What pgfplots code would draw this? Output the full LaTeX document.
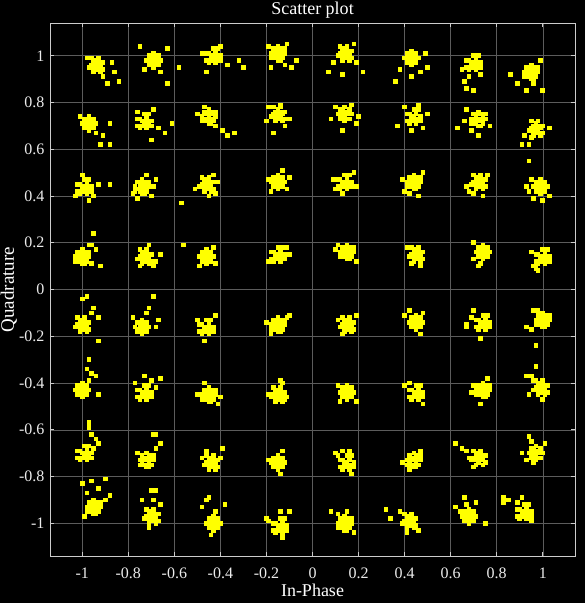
\documentclass[border=0pt]{standalone}
\usepackage{pgfplots}
\pgfplotsset{compat=1.18}
\usepackage{fontspec}
\setmainfont{Liberation Serif}
\definecolor{dotyellow}{rgb}{1,1,0}
\definecolor{gridgray}{rgb}{0.36,0.36,0.36}
\definecolor{framegray}{rgb}{0.8,0.8,0.8}
\pgfplotsset{pts/.style={only marks, mark=square*, mark size=1.8bp, color=dotyellow, mark options={draw=dotyellow, fill=dotyellow, line width=0pt}}}
\begin{document}
\begin{tikzpicture}
\fill[black] (-50bp,-47bp) rectangle (535bp,556bp);
\begin{axis}[
  at={(0,0)}, anchor=south west,
  scale only axis, width=525bp, height=533bp,
  xmin=-1.14, xmax=1.14, ymin=-1.14, ymax=1.14,
  xtick={-1,-0.8,-0.6,-0.4,-0.2,0,0.2,0.4,0.6,0.8,1},
  ytick={-1,-0.8,-0.6,-0.4,-0.2,0,0.2,0.4,0.6,0.8,1},
  /pgf/number format/assume math mode=true,
  grid=major, grid style={gridgray, line width=0.5bp},
  axis line style={framegray, line width=0.8bp},
  tick style={framegray, line width=0.6bp},
  tick align=inside, major tick length=4bp,
  xtick pos=both, ytick pos=both,
  ticklabel style={white!92!black, font=\fontsize{16bp}{16bp}\selectfont},
  xticklabel style={anchor=base, yshift=-22bp},
  yticklabel style={anchor=east, xshift=-2bp},
  every axis title shift=0pt,
  title={Scatter plot},
  title style={white, font=\fontsize{18bp}{18bp}\selectfont, at={(axis description cs:0.5,1.0163)}, anchor=base, inner sep=0pt},
  xlabel={In-Phase},
  xlabel style={white, font=\fontsize{18bp}{18bp}\selectfont, at={(axis description cs:0.5,-0.0769)}, anchor=base, inner sep=0pt},
  ylabel={Quadrature},
  ylabel style={white, font=\fontsize{19bp}{19bp}\selectfont, at={(axis description cs:-0.0686,0.5)}, rotate=0, anchor=base, inner sep=0pt},
]
% Row 1
\addplot[pts] coordinates {
(-0.94,0.96) (-0.93,0.97) (-0.95,0.97) (-0.93,0.95) (-0.95,0.95) (-0.92,0.96) (-0.96,0.96) (-0.94,0.98) (-0.94,0.94) (-0.91,0.97) (-0.97,0.95) (-0.92,0.93) (-0.96,0.99) (-0.93,0.99) (-0.95,0.93) (-0.91,0.94) (-0.84,0.89) (-0.89,0.88) (-0.86,0.93) (-0.98,0.99) (-0.91,0.91) (-0.87,0.97)
(-0.69,0.99) (-0.68,0.98) (-0.70,0.98) (-0.69,0.97) (-0.67,1.00) (-0.71,0.96) (-0.67,0.96) (-0.71,1.00) (-0.66,0.98) (-0.72,0.98) (-0.69,1.01) (-0.69,0.95) (-0.68,0.96) (-0.70,1.00) (-0.67,0.99) (-0.71,0.97) (-0.63,1.03) (-0.58,0.95) (-0.63,0.88) (-0.75,1.04) (-0.66,0.93) (-0.73,0.94)
(-0.42,1.01) (-0.44,1.00) (-0.43,0.99) (-0.41,0.99) (-0.45,1.01) (-0.42,1.02) (-0.44,0.98) (-0.40,1.00) (-0.46,1.01) (-0.43,1.03) (-0.42,0.97) (-0.45,0.97) (-0.41,1.03) (-0.46,0.98) (-0.40,0.98) (-0.43,1.00) (-0.32,0.98) (-0.30,0.95) (-0.46,0.93) (-0.37,0.96) (-0.40,1.04) (-0.48,1.01)
(-0.15,1.01) (-0.14,1.00) (-0.16,1.02) (-0.13,1.02) (-0.17,1.00) (-0.14,1.03) (-0.16,0.99) (-0.13,0.99) (-0.17,1.03) (-0.12,1.01) (-0.18,1.01) (-0.15,1.04) (-0.15,0.98) (-0.12,1.03) (-0.18,0.99) (-0.14,0.98) (-0.07,0.98) (-0.18,0.95) (-0.11,1.05) (-0.09,0.95) (-0.19,1.04) (-0.12,0.96)
(0.14,1.01) (0.15,1.02) (0.13,1.02) (0.15,1.00) (0.13,1.00) (0.16,1.01) (0.12,1.01) (0.14,1.03) (0.14,0.99) (0.17,1.02) (0.11,1.00) (0.16,0.98) (0.12,1.04) (0.15,1.04) (0.13,0.98) (0.17,0.99) (0.07,0.93) (0.22,0.93) (0.13,0.92) (0.19,0.97) (0.09,0.97) (0.18,1.05)
(0.43,1.00) (0.44,0.99) (0.42,0.99) (0.43,0.98) (0.45,1.01) (0.41,0.97) (0.45,0.97) (0.41,1.01) (0.46,0.99) (0.40,0.99) (0.43,1.02) (0.43,0.96) (0.44,0.97) (0.42,1.01) (0.45,1.00) (0.41,0.98) (0.36,0.89) (0.43,0.91) (0.50,0.95) (0.38,0.94) (0.47,0.93) (0.49,1.01)
(0.71,0.98) (0.69,0.97) (0.70,0.96) (0.72,0.96) (0.68,0.98) (0.71,0.99) (0.69,0.95) (0.73,0.97) (0.67,0.98) (0.70,1.00) (0.71,0.94) (0.68,0.94) (0.72,1.00) (0.67,0.95) (0.73,0.95) (0.70,0.97) (0.67,0.86) (0.66,0.89) (0.70,0.85) (0.68,0.91) (0.73,0.92) (0.65,0.94)
(0.95,0.93) (0.96,0.92) (0.94,0.94) (0.97,0.94) (0.93,0.92) (0.96,0.95) (0.94,0.91) (0.97,0.91) (0.93,0.95) (0.98,0.93) (0.92,0.93) (0.95,0.96) (0.95,0.90) (0.98,0.95) (0.92,0.91) (0.96,0.90) (0.86,0.92) (1.00,0.85) (0.93,0.85) (0.99,0.98) (0.89,0.88) (0.96,0.88)
};
% Row 2
\addplot[pts] coordinates {
(-0.97,0.72) (-0.96,0.71) (-0.98,0.71) (-0.97,0.70) (-0.95,0.73) (-0.99,0.69) (-0.95,0.69) (-0.99,0.73) (-0.94,0.71) (-1.00,0.71) (-0.97,0.74) (-0.97,0.68) (-0.96,0.69) (-0.98,0.73) (-0.95,0.72) (-0.99,0.70) (-0.88,0.62) (-0.92,0.62) (-0.88,0.71) (-0.91,0.66) (-1.01,0.74) (-0.94,0.67)
(-0.72,0.73) (-0.74,0.72) (-0.73,0.71) (-0.71,0.71) (-0.75,0.73) (-0.72,0.74) (-0.74,0.70) (-0.70,0.72) (-0.76,0.73) (-0.73,0.75) (-0.72,0.69) (-0.75,0.69) (-0.71,0.75) (-0.76,0.70) (-0.70,0.70) (-0.73,0.72) (-0.61,0.71) (-0.64,0.67) (-0.70,0.64) (-0.67,0.69) (-0.76,0.76) (-0.69,0.77)
(-0.45,0.74) (-0.44,0.73) (-0.46,0.75) (-0.43,0.75) (-0.47,0.73) (-0.44,0.76) (-0.46,0.72) (-0.43,0.72) (-0.47,0.76) (-0.42,0.74) (-0.48,0.74) (-0.45,0.77) (-0.45,0.71) (-0.42,0.76) (-0.48,0.72) (-0.44,0.71) (-0.34,0.67) (-0.37,0.66) (-0.39,0.68) (-0.50,0.75) (-0.42,0.70) (-0.47,0.78)
(-0.15,0.75) (-0.14,0.76) (-0.16,0.76) (-0.14,0.74) (-0.16,0.74) (-0.13,0.75) (-0.17,0.75) (-0.15,0.77) (-0.15,0.73) (-0.12,0.76) (-0.18,0.74) (-0.13,0.72) (-0.17,0.78) (-0.14,0.78) (-0.16,0.72) (-0.12,0.73) (-0.17,0.67) (-0.12,0.70) (-0.19,0.78) (-0.10,0.73) (-0.14,0.79) (-0.20,0.72)
(0.14,0.76) (0.15,0.75) (0.13,0.75) (0.14,0.74) (0.16,0.77) (0.12,0.73) (0.16,0.73) (0.12,0.77) (0.17,0.75) (0.11,0.75) (0.14,0.78) (0.14,0.72) (0.15,0.73) (0.13,0.77) (0.16,0.76) (0.12,0.74) (0.08,0.73) (0.13,0.68) (0.19,0.71) (0.10,0.78) (0.17,0.79) (0.20,0.74)
(0.45,0.75) (0.43,0.74) (0.44,0.73) (0.46,0.73) (0.42,0.75) (0.45,0.76) (0.43,0.72) (0.47,0.74) (0.41,0.75) (0.44,0.77) (0.45,0.71) (0.42,0.71) (0.46,0.77) (0.41,0.72) (0.47,0.72) (0.44,0.74) (0.37,0.70) (0.43,0.68) (0.48,0.69) (0.40,0.78) (0.50,0.75) (0.46,0.79)
(0.72,0.73) (0.73,0.72) (0.71,0.74) (0.74,0.74) (0.70,0.72) (0.73,0.75) (0.71,0.71) (0.74,0.71) (0.70,0.75) (0.75,0.73) (0.69,0.73) (0.72,0.76) (0.72,0.70) (0.75,0.75) (0.69,0.71) (0.73,0.70) (0.63,0.69) (0.67,0.77) (0.72,0.66) (0.66,0.72) (0.77,0.70) (0.69,0.68)
(0.97,0.69) (0.98,0.70) (0.96,0.70) (0.98,0.68) (0.96,0.68) (0.99,0.69) (0.95,0.69) (0.97,0.71) (0.97,0.67) (1.00,0.70) (0.94,0.68) (0.99,0.66) (0.95,0.72) (0.98,0.72) (0.96,0.66) (1.00,0.67) (0.94,0.62) (0.94,0.55) (0.91,0.62) (1.03,0.69) (0.95,0.65) (0.92,0.66)
};
% Row 3
\addplot[pts] coordinates {
(-0.98,0.45) (-1.00,0.44) (-0.99,0.43) (-0.97,0.43) (-1.01,0.45) (-0.98,0.46) (-1.00,0.42) (-0.96,0.44) (-1.02,0.45) (-0.99,0.47) (-0.98,0.41) (-1.01,0.41) (-0.97,0.47) (-1.02,0.42) (-0.96,0.42) (-0.99,0.44) (-0.88,0.45) (-0.93,0.45) (-1.03,0.40) (-0.97,0.38) (-1.00,0.49) (-0.95,0.40)
(-0.74,0.44) (-0.73,0.43) (-0.75,0.45) (-0.72,0.45) (-0.76,0.43) (-0.73,0.46) (-0.75,0.42) (-0.72,0.42) (-0.76,0.46) (-0.71,0.44) (-0.77,0.44) (-0.74,0.47) (-0.74,0.41) (-0.71,0.46) (-0.77,0.42) (-0.73,0.41) (-0.68,0.47) (-0.70,0.40) (-0.78,0.41) (-0.72,0.49) (-0.69,0.44) (-0.76,0.39)
(-0.46,0.45) (-0.45,0.46) (-0.47,0.46) (-0.45,0.44) (-0.47,0.44) (-0.44,0.45) (-0.48,0.45) (-0.46,0.47) (-0.46,0.43) (-0.43,0.46) (-0.49,0.44) (-0.44,0.42) (-0.48,0.48) (-0.45,0.48) (-0.47,0.42) (-0.43,0.43) (-0.41,0.46) (-0.51,0.43) (-0.45,0.40) (-0.43,0.49) (-0.57,0.37) (-0.42,0.41)
(-0.15,0.47) (-0.14,0.46) (-0.16,0.46) (-0.15,0.45) (-0.13,0.48) (-0.17,0.44) (-0.13,0.44) (-0.17,0.48) (-0.12,0.46) (-0.18,0.46) (-0.15,0.49) (-0.15,0.43) (-0.14,0.44) (-0.16,0.48) (-0.13,0.47) (-0.17,0.45) (-0.10,0.48) (-0.18,0.42) (-0.13,0.51) (-0.11,0.43) (-0.19,0.47)
(0.15,0.47) (0.13,0.46) (0.14,0.45) (0.16,0.45) (0.12,0.47) (0.15,0.48) (0.13,0.44) (0.17,0.46) (0.11,0.47) (0.14,0.49) (0.15,0.43) (0.12,0.43) (0.16,0.49) (0.11,0.44) (0.17,0.44) (0.14,0.46) (0.09,0.47) (0.19,0.44) (0.13,0.41) (0.18,0.50) (0.10,0.43)
(0.44,0.46) (0.45,0.45) (0.43,0.47) (0.46,0.47) (0.42,0.45) (0.45,0.48) (0.43,0.44) (0.46,0.44) (0.42,0.48) (0.47,0.46) (0.41,0.46) (0.44,0.49) (0.44,0.43) (0.47,0.48) (0.41,0.44) (0.45,0.43) (0.39,0.47) (0.42,0.41) (0.48,0.50) (0.40,0.42) (0.46,0.40)
(0.72,0.46) (0.73,0.47) (0.71,0.47) (0.73,0.45) (0.71,0.45) (0.74,0.46) (0.70,0.46) (0.72,0.48) (0.72,0.44) (0.75,0.47) (0.69,0.45) (0.74,0.43) (0.70,0.49) (0.73,0.49) (0.71,0.43) (0.75,0.44) (0.67,0.44) (0.70,0.41) (0.76,0.49) (0.68,0.42) (0.74,0.40)
(0.99,0.45) (1.00,0.44) (0.98,0.44) (0.99,0.43) (1.01,0.46) (0.97,0.42) (1.01,0.42) (0.97,0.46) (1.02,0.44) (0.96,0.44) (0.99,0.47) (0.99,0.41) (1.00,0.42) (0.98,0.46) (1.01,0.45) (0.97,0.43) (0.94,0.42) (0.96,0.39) (1.03,0.40) (0.95,0.47) (1.00,0.38) (0.93,0.44)
};
% Row 4
\addplot[pts] coordinates {
(-1.00,0.14) (-0.99,0.13) (-1.01,0.15) (-0.98,0.15) (-1.02,0.13) (-0.99,0.16) (-1.01,0.12) (-0.98,0.12) (-1.02,0.16) (-0.97,0.14) (-1.03,0.14) (-1.00,0.17) (-1.00,0.11) (-0.97,0.16) (-1.03,0.12) (-0.99,0.11) (-0.96,0.19) (-0.94,0.17) (-0.92,0.10) (-0.97,0.19) (-0.95,0.24) (-0.96,0.11)
(-0.73,0.14) (-0.72,0.15) (-0.74,0.15) (-0.72,0.13) (-0.74,0.13) (-0.71,0.14) (-0.75,0.14) (-0.73,0.16) (-0.73,0.12) (-0.70,0.15) (-0.76,0.13) (-0.71,0.11) (-0.75,0.17) (-0.72,0.17) (-0.74,0.11) (-0.70,0.12) (-0.68,0.12) (-0.75,0.10) (-0.71,0.19) (-0.66,0.15) (-0.56,0.19) (-0.69,0.10)
(-0.46,0.15) (-0.45,0.14) (-0.47,0.14) (-0.46,0.13) (-0.44,0.16) (-0.48,0.12) (-0.44,0.12) (-0.48,0.16) (-0.43,0.14) (-0.49,0.14) (-0.46,0.17) (-0.46,0.11) (-0.45,0.12) (-0.47,0.16) (-0.44,0.15) (-0.48,0.13) (-0.43,0.18) (-0.49,0.10) (-0.42,0.11)
(-0.14,0.16) (-0.16,0.15) (-0.15,0.14) (-0.13,0.14) (-0.17,0.16) (-0.14,0.17) (-0.16,0.13) (-0.12,0.15) (-0.18,0.16) (-0.15,0.18) (-0.14,0.12) (-0.17,0.12) (-0.13,0.18) (-0.18,0.13) (-0.12,0.13) (-0.15,0.15) (-0.11,0.18) (-0.19,0.12) (-0.10,0.15)
(0.15,0.16) (0.16,0.15) (0.14,0.17) (0.17,0.17) (0.13,0.15) (0.16,0.18) (0.14,0.14) (0.17,0.14) (0.13,0.18) (0.18,0.16) (0.12,0.16) (0.15,0.19) (0.15,0.13) (0.18,0.18) (0.12,0.14) (0.16,0.13) (0.10,0.17) (0.19,0.12) (0.11,0.19)
(0.46,0.16) (0.44,0.16) (0.46,0.14) (0.44,0.14) (0.47,0.15) (0.43,0.15) (0.45,0.17) (0.45,0.13) (0.48,0.16) (0.42,0.14) (0.47,0.12) (0.43,0.18) (0.46,0.18) (0.44,0.12) (0.48,0.13) (0.41,0.18) (0.43,0.11) (0.47,0.10)
(0.74,0.17) (0.75,0.16) (0.73,0.16) (0.74,0.15) (0.76,0.18) (0.72,0.14) (0.76,0.14) (0.72,0.18) (0.77,0.16) (0.71,0.16) (0.74,0.19) (0.74,0.13) (0.75,0.14) (0.73,0.18) (0.76,0.17) (0.72,0.15) (0.72,0.10) (0.73,0.11) (0.70,0.20) (0.70,0.13)
(1.01,0.15) (0.99,0.14) (1.00,0.13) (1.02,0.13) (0.98,0.15) (1.01,0.16) (0.99,0.12) (1.03,0.14) (0.97,0.15) (1.00,0.17) (1.01,0.11) (0.98,0.11) (1.02,0.17) (0.97,0.12) (1.03,0.12) (1.00,0.14) (0.97,0.09) (0.96,0.10) (0.98,0.08) (0.95,0.16)
};
% Row 5
\addplot[pts] coordinates {
(-1.00,-0.15) (-0.99,-0.14) (-1.01,-0.14) (-0.99,-0.16) (-1.01,-0.16) (-0.98,-0.15) (-1.02,-0.15) (-1.00,-0.13) (-1.00,-0.17) (-0.97,-0.14) (-1.03,-0.16) (-0.98,-0.18) (-1.02,-0.12) (-0.99,-0.12) (-1.01,-0.18) (-0.97,-0.17) (-0.98,-0.03) (-1.00,-0.04) (-0.96,-0.10) (-0.93,-0.12) (-0.93,-0.22) (-0.95,-0.08)
(-0.74,-0.15) (-0.73,-0.16) (-0.75,-0.16) (-0.74,-0.17) (-0.72,-0.14) (-0.76,-0.18) (-0.72,-0.18) (-0.76,-0.14) (-0.71,-0.16) (-0.77,-0.16) (-0.74,-0.13) (-0.74,-0.19) (-0.73,-0.18) (-0.75,-0.14) (-0.72,-0.15) (-0.76,-0.17) (-0.69,-0.03) (-0.71,-0.08) (-0.67,-0.13) (-0.72,-0.10) (-0.78,-0.12) (-0.68,-0.16)
(-0.45,-0.15) (-0.47,-0.16) (-0.46,-0.17) (-0.44,-0.17) (-0.48,-0.15) (-0.45,-0.14) (-0.47,-0.18) (-0.43,-0.16) (-0.49,-0.15) (-0.46,-0.13) (-0.45,-0.19) (-0.48,-0.19) (-0.44,-0.13) (-0.49,-0.18) (-0.43,-0.18) (-0.46,-0.16) (-0.47,-0.22) (-0.42,-0.11) (-0.50,-0.13)
(-0.15,-0.15) (-0.14,-0.16) (-0.16,-0.14) (-0.13,-0.14) (-0.17,-0.16) (-0.14,-0.13) (-0.16,-0.17) (-0.13,-0.17) (-0.17,-0.13) (-0.12,-0.15) (-0.18,-0.15) (-0.15,-0.12) (-0.15,-0.18) (-0.12,-0.13) (-0.18,-0.17) (-0.14,-0.18) (-0.20,-0.14) (-0.11,-0.12) (-0.18,-0.19) (-0.10,-0.11)
(0.15,-0.15) (0.16,-0.14) (0.14,-0.14) (0.16,-0.16) (0.14,-0.16) (0.17,-0.15) (0.13,-0.15) (0.15,-0.13) (0.15,-0.17) (0.18,-0.14) (0.12,-0.16) (0.17,-0.18) (0.13,-0.12) (0.16,-0.12) (0.14,-0.18) (0.18,-0.17) (0.11,-0.13) (0.13,-0.19) (0.19,-0.11)
(0.45,-0.13) (0.46,-0.14) (0.44,-0.14) (0.45,-0.15) (0.47,-0.12) (0.43,-0.16) (0.47,-0.16) (0.43,-0.12) (0.48,-0.14) (0.42,-0.14) (0.45,-0.11) (0.45,-0.17) (0.46,-0.16) (0.44,-0.12) (0.47,-0.13) (0.43,-0.15) (0.40,-0.11) (0.42,-0.09) (0.47,-0.19) (0.48,-0.10)
(0.75,-0.13) (0.73,-0.14) (0.74,-0.15) (0.76,-0.15) (0.72,-0.13) (0.75,-0.12) (0.73,-0.16) (0.77,-0.14) (0.71,-0.13) (0.74,-0.11) (0.75,-0.17) (0.72,-0.17) (0.76,-0.11) (0.71,-0.16) (0.77,-0.16) (0.74,-0.14) (0.67,-0.16) (0.67,-0.15) (0.73,-0.21) (0.69,-0.12) (0.70,-0.09)
(1.00,-0.13) (1.01,-0.14) (0.99,-0.12) (1.02,-0.12) (0.98,-0.14) (1.01,-0.11) (0.99,-0.15) (1.02,-0.15) (0.98,-0.11) (1.03,-0.13) (0.97,-0.13) (1.00,-0.10) (1.00,-0.16) (1.03,-0.11) (0.97,-0.15) (1.01,-0.16) (0.96,-0.09) (0.93,-0.16) (0.97,-0.24) (0.95,-0.17) (0.98,-0.09)
};
% Row 6
\addplot[pts] coordinates {
(-1.00,-0.42) (-0.99,-0.43) (-1.01,-0.43) (-1.00,-0.44) (-0.98,-0.41) (-1.02,-0.45) (-0.98,-0.45) (-1.02,-0.41) (-0.97,-0.43) (-1.03,-0.43) (-1.00,-0.40) (-1.00,-0.46) (-0.99,-0.45) (-1.01,-0.41) (-0.98,-0.42) (-1.02,-0.44) (-0.97,-0.30) (-0.98,-0.34) (-0.94,-0.37) (-0.96,-0.36) (-0.93,-0.45) (-0.97,-0.39)
(-0.72,-0.43) (-0.74,-0.44) (-0.73,-0.45) (-0.71,-0.45) (-0.75,-0.43) (-0.72,-0.42) (-0.74,-0.46) (-0.70,-0.44) (-0.76,-0.43) (-0.73,-0.41) (-0.72,-0.47) (-0.75,-0.47) (-0.71,-0.41) (-0.76,-0.46) (-0.70,-0.46) (-0.73,-0.44) (-0.73,-0.37) (-0.66,-0.38) (-0.70,-0.39) (-0.68,-0.42) (-0.77,-0.40)
(-0.45,-0.45) (-0.44,-0.46) (-0.46,-0.44) (-0.43,-0.44) (-0.47,-0.46) (-0.44,-0.43) (-0.46,-0.47) (-0.43,-0.47) (-0.47,-0.43) (-0.42,-0.45) (-0.48,-0.45) (-0.45,-0.42) (-0.45,-0.48) (-0.42,-0.43) (-0.48,-0.47) (-0.44,-0.48) (-0.40,-0.46) (-0.47,-0.40) (-0.50,-0.45) (-0.41,-0.49)
(-0.15,-0.45) (-0.14,-0.44) (-0.16,-0.44) (-0.14,-0.46) (-0.16,-0.46) (-0.13,-0.45) (-0.17,-0.45) (-0.15,-0.43) (-0.15,-0.47) (-0.12,-0.44) (-0.18,-0.46) (-0.13,-0.48) (-0.17,-0.42) (-0.14,-0.42) (-0.16,-0.48) (-0.12,-0.47) (-0.14,-0.39) (-0.13,-0.40) (-0.19,-0.45) (-0.11,-0.46)
(0.15,-0.43) (0.16,-0.44) (0.14,-0.44) (0.15,-0.45) (0.17,-0.42) (0.13,-0.46) (0.17,-0.46) (0.13,-0.42) (0.18,-0.44) (0.12,-0.44) (0.15,-0.41) (0.15,-0.47) (0.16,-0.46) (0.14,-0.42) (0.17,-0.43) (0.13,-0.45) (0.11,-0.41) (0.19,-0.48) (0.12,-0.48)
(0.46,-0.43) (0.44,-0.44) (0.45,-0.45) (0.47,-0.45) (0.43,-0.43) (0.46,-0.42) (0.44,-0.46) (0.48,-0.44) (0.42,-0.43) (0.45,-0.41) (0.46,-0.47) (0.43,-0.47) (0.47,-0.41) (0.42,-0.46) (0.48,-0.46) (0.45,-0.44) (0.40,-0.41) (0.42,-0.40) (0.48,-0.49)
(0.74,-0.43) (0.75,-0.44) (0.73,-0.42) (0.76,-0.42) (0.72,-0.44) (0.75,-0.41) (0.73,-0.45) (0.76,-0.45) (0.72,-0.41) (0.77,-0.43) (0.71,-0.43) (0.74,-0.40) (0.74,-0.46) (0.77,-0.41) (0.71,-0.45) (0.75,-0.46) (0.69,-0.44) (0.70,-0.41) (0.73,-0.49) (0.76,-0.38)
(0.99,-0.42) (1.00,-0.41) (0.98,-0.41) (1.00,-0.43) (0.98,-0.43) (1.01,-0.42) (0.97,-0.42) (0.99,-0.40) (0.99,-0.44) (1.02,-0.41) (0.96,-0.43) (1.01,-0.45) (0.97,-0.39) (1.00,-0.39) (0.98,-0.45) (1.02,-0.44) (0.93,-0.37) (0.95,-0.37) (0.96,-0.39) (0.94,-0.45) (1.00,-0.47) (0.97,-0.33)
};
% Row 7
\addplot[pts] coordinates {
(-0.98,-0.69) (-1.00,-0.70) (-0.99,-0.71) (-0.97,-0.71) (-1.01,-0.69) (-0.98,-0.68) (-1.00,-0.72) (-0.96,-0.70) (-1.02,-0.69) (-0.99,-0.67) (-0.98,-0.73) (-1.01,-0.73) (-0.97,-0.67) (-1.02,-0.72) (-0.96,-0.72) (-0.99,-0.70) (-0.97,-0.57) (-0.97,-0.59) (-0.96,-0.62) (-0.94,-0.64) (-0.93,-0.66) (-0.95,-0.68)
(-0.72,-0.73) (-0.71,-0.74) (-0.73,-0.72) (-0.70,-0.72) (-0.74,-0.74) (-0.71,-0.71) (-0.73,-0.75) (-0.70,-0.75) (-0.74,-0.71) (-0.69,-0.73) (-0.75,-0.73) (-0.72,-0.70) (-0.72,-0.76) (-0.69,-0.71) (-0.75,-0.75) (-0.71,-0.76) (-0.69,-0.62) (-0.68,-0.62) (-0.66,-0.66) (-0.68,-0.68) (-0.76,-0.70)
(-0.44,-0.74) (-0.43,-0.73) (-0.45,-0.73) (-0.43,-0.75) (-0.45,-0.75) (-0.42,-0.74) (-0.46,-0.74) (-0.44,-0.72) (-0.44,-0.76) (-0.41,-0.73) (-0.47,-0.75) (-0.42,-0.77) (-0.46,-0.71) (-0.43,-0.71) (-0.45,-0.77) (-0.41,-0.76) (-0.39,-0.68) (-0.48,-0.72) (-0.40,-0.72) (-0.46,-0.69)
(-0.15,-0.73) (-0.14,-0.74) (-0.16,-0.74) (-0.15,-0.75) (-0.13,-0.72) (-0.17,-0.76) (-0.13,-0.76) (-0.17,-0.72) (-0.12,-0.74) (-0.18,-0.74) (-0.15,-0.71) (-0.15,-0.77) (-0.14,-0.76) (-0.16,-0.72) (-0.13,-0.73) (-0.17,-0.75) (-0.13,-0.69) (-0.19,-0.73) (-0.14,-0.79)
(0.16,-0.73) (0.14,-0.74) (0.15,-0.75) (0.17,-0.75) (0.13,-0.73) (0.16,-0.72) (0.14,-0.76) (0.18,-0.74) (0.12,-0.73) (0.15,-0.71) (0.16,-0.77) (0.13,-0.77) (0.17,-0.71) (0.12,-0.76) (0.18,-0.76) (0.15,-0.74) (0.10,-0.70) (0.13,-0.69) (0.16,-0.69) (0.11,-0.71) (0.17,-0.79)
(0.44,-0.73) (0.45,-0.74) (0.43,-0.72) (0.46,-0.72) (0.42,-0.74) (0.45,-0.71) (0.43,-0.75) (0.46,-0.75) (0.42,-0.71) (0.47,-0.73) (0.41,-0.73) (0.44,-0.70) (0.44,-0.76) (0.47,-0.71) (0.41,-0.75) (0.45,-0.76) (0.47,-0.69) (0.42,-0.77) (0.39,-0.74)
(0.72,-0.72) (0.73,-0.71) (0.71,-0.71) (0.73,-0.73) (0.71,-0.73) (0.74,-0.72) (0.70,-0.72) (0.72,-0.70) (0.72,-0.74) (0.75,-0.71) (0.69,-0.73) (0.74,-0.75) (0.70,-0.69) (0.73,-0.69) (0.71,-0.75) (0.75,-0.74) (0.65,-0.68) (0.67,-0.69) (0.68,-0.72) (0.62,-0.66) (0.70,-0.76)
(0.97,-0.69) (0.98,-0.70) (0.96,-0.70) (0.97,-0.71) (0.99,-0.68) (0.95,-0.72) (0.99,-0.72) (0.95,-0.68) (1.00,-0.70) (0.94,-0.70) (0.97,-0.67) (0.97,-0.73) (0.98,-0.72) (0.96,-0.68) (0.99,-0.69) (0.95,-0.71) (0.94,-0.63) (0.91,-0.70) (0.93,-0.73) (0.95,-0.65) (1.01,-0.66) (0.96,-0.74)
};
% Row 8
\addplot[pts] coordinates {
(-0.95,-0.93) (-0.94,-0.94) (-0.96,-0.92) (-0.93,-0.92) (-0.97,-0.94) (-0.94,-0.91) (-0.96,-0.95) (-0.93,-0.95) (-0.97,-0.91) (-0.92,-0.93) (-0.98,-0.93) (-0.95,-0.90) (-0.95,-0.96) (-0.92,-0.91) (-0.98,-0.95) (-0.94,-0.96) (-0.96,-0.82) (-0.90,-0.81) (-1.00,-0.83) (-0.88,-0.88) (-0.93,-0.85) (-0.99,-0.97) (-0.90,-0.90) (-0.98,-0.87)
(-0.70,-0.97) (-0.69,-0.96) (-0.71,-0.96) (-0.69,-0.98) (-0.71,-0.98) (-0.68,-0.97) (-0.72,-0.97) (-0.70,-0.95) (-0.70,-0.99) (-0.67,-0.96) (-0.73,-0.98) (-0.68,-1.00) (-0.72,-0.94) (-0.69,-0.94) (-0.71,-1.00) (-0.67,-0.99) (-0.70,-0.86) (-0.68,-0.86) (-0.74,-0.90) (-0.66,-0.92) (-0.71,-1.02) (-0.69,-0.90)
(-0.43,-0.99) (-0.42,-1.00) (-0.44,-1.00) (-0.43,-1.01) (-0.41,-0.98) (-0.45,-1.02) (-0.41,-1.02) (-0.45,-0.98) (-0.40,-1.00) (-0.46,-1.00) (-0.43,-0.97) (-0.43,-1.03) (-0.42,-1.02) (-0.44,-0.98) (-0.41,-0.99) (-0.45,-1.01) (-0.46,-0.90) (-0.45,-0.89) (-0.38,-0.92) (-0.48,-0.93) (-0.44,-1.05) (-0.42,-0.95)
(-0.13,-1.00) (-0.15,-1.01) (-0.14,-1.02) (-0.12,-1.02) (-0.16,-1.00) (-0.13,-0.99) (-0.15,-1.03) (-0.11,-1.01) (-0.17,-1.00) (-0.14,-0.98) (-0.13,-1.04) (-0.16,-1.04) (-0.12,-0.98) (-0.17,-1.03) (-0.11,-1.03) (-0.14,-1.01) (-0.20,-0.98) (-0.10,-0.95) (-0.13,-1.06) (-0.19,-0.99) (-0.14,-0.95)
(0.14,-1.00) (0.15,-1.01) (0.13,-0.99) (0.16,-0.99) (0.12,-1.01) (0.15,-0.98) (0.13,-1.02) (0.16,-1.02) (0.12,-0.98) (0.17,-1.00) (0.11,-1.00) (0.14,-0.97) (0.14,-1.03) (0.17,-0.98) (0.11,-1.02) (0.15,-1.03) (0.08,-0.95) (0.11,-0.96) (0.18,-1.04) (0.15,-0.95)
(0.42,-0.99) (0.43,-0.98) (0.41,-0.98) (0.43,-1.00) (0.41,-1.00) (0.44,-0.99) (0.40,-0.99) (0.42,-0.97) (0.42,-1.01) (0.45,-0.98) (0.39,-1.00) (0.44,-1.02) (0.40,-0.96) (0.43,-0.96) (0.41,-1.02) (0.45,-1.01) (0.32,-0.94) (0.34,-0.98) (0.46,-1.03) (0.38,-0.95) (0.41,-1.04)
(0.68,-0.96) (0.69,-0.97) (0.67,-0.97) (0.68,-0.98) (0.70,-0.95) (0.66,-0.99) (0.70,-0.99) (0.66,-0.95) (0.71,-0.97) (0.65,-0.97) (0.68,-0.94) (0.68,-1.00) (0.69,-0.99) (0.67,-0.95) (0.70,-0.96) (0.66,-0.98) (0.66,-0.89) (0.62,-0.93) (0.75,-1.00) (0.67,-0.92) (0.71,-0.91) (0.64,-0.95)
(0.93,-0.94) (0.91,-0.95) (0.92,-0.96) (0.94,-0.96) (0.90,-0.94) (0.93,-0.93) (0.91,-0.97) (0.95,-0.95) (0.89,-0.94) (0.92,-0.92) (0.93,-0.98) (0.90,-0.98) (0.94,-0.92) (0.89,-0.97) (0.95,-0.97) (0.92,-0.95) (0.83,-0.89) (0.83,-0.91) (0.85,-0.90) (0.89,-0.91) (0.95,-0.99) (0.91,-0.89)
};
\end{axis}
\pgfresetboundingbox
\path[use as bounding box] (-50bp,-47bp) rectangle (535bp,556bp);
\end{tikzpicture}
\end{document}
